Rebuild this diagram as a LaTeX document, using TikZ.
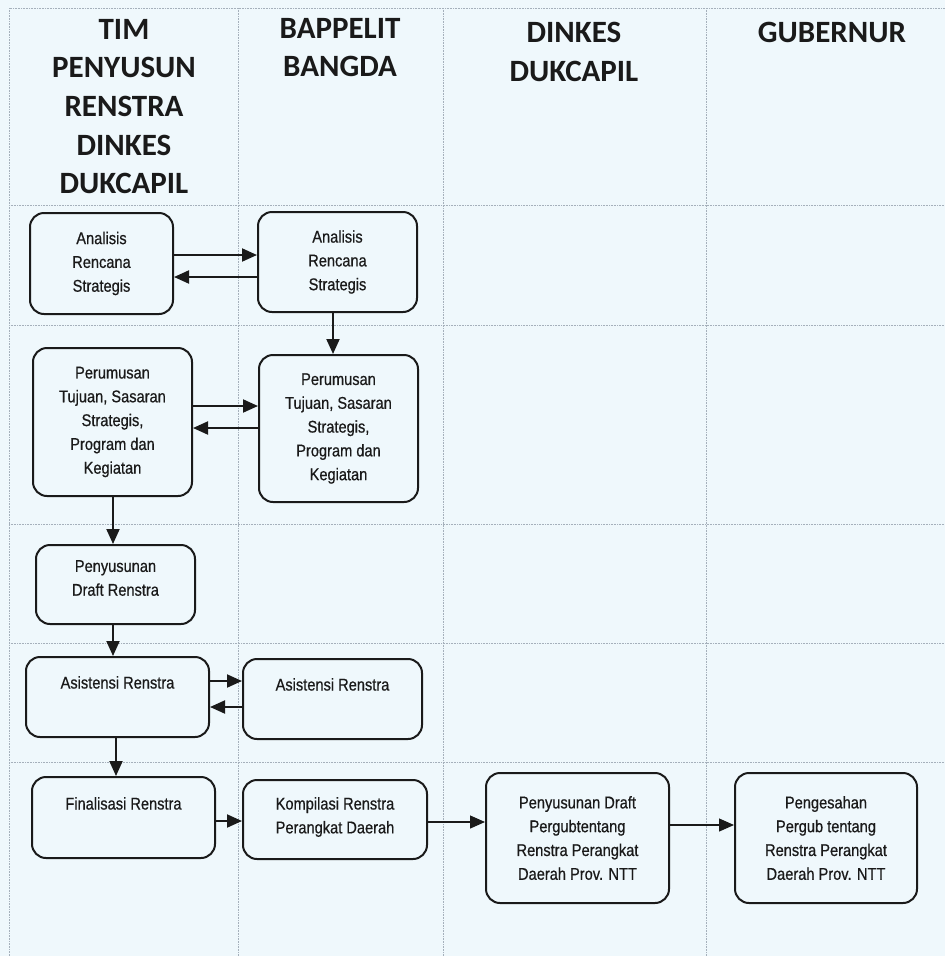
\documentclass[tikz,border=0pt]{standalone}
\usepackage{fontspec}
\setmainfont{Liberation Sans}
\newfontfamily\hfont{Carlito}
\newfontfamily\bfont{Liberation Sans}[FakeStretch=0.86,FakeBold=0.6]
\usetikzlibrary{arrows.meta}
\definecolor{bg}{HTML}{EFF8FC}
\definecolor{ink}{HTML}{1A1A1A}
\definecolor{gridc}{HTML}{A5B0BB}
\begin{document}
\begin{tikzpicture}[x=1pt,y=-1pt,
  gridline/.style={draw=gridc, line width=0.6pt, densely dotted},
  head/.style={anchor=north, inner sep=0pt, align=center, text=ink,
    font=\hfont\bfseries\fontsize{31}{38.6}\selectfont},
  box/.style={draw=ink, line width=2pt, rounded corners=14pt, align=center,
    inner sep=0pt, text=ink, font=\bfont\fontsize{17}{23.8}\selectfont},
  toptext/.style={anchor=north, inner sep=0pt, align=center, text=ink,
    font=\bfont\fontsize{17}{23.8}\selectfont},
  arr/.style={draw=ink, line width=2pt, -{Triangle[length=15pt,width=13pt]}},
  arrthin/.style={draw=ink, line width=1.3pt, -{Triangle[length=15pt,width=13pt]}}]
\fill[bg] (0,0) rectangle (945,956);
\useasboundingbox (0,0) rectangle (945,956);
% grid
\draw[gridline] (9,956) -- (9,8) -- (945,8);
\foreach \x in {238,443,706} \draw[gridline] (\x,8) -- (\x,956);
\foreach \y in {205,325,524,643,762} \draw[gridline] (9,\y) -- (945,\y);
% headers
\node[head] (h1) at (124,19) {TIM\\PENYUSUN\\RENSTRA\\DINKES\\DUKCAPIL};
\node[head] (h2) at (340,18) {BAPPELIT\\BANGDA};
\node[head] (h3) at (574,22) {DINKES\\DUKCAPIL};
\node[head] (h4) at (832,22) {GUBERNUR};
% boxes
\node[box, minimum width=143, minimum height=101] (A1) at (101.5,263.5) {Analisis\\Rencana\\Strategis};
\node[box, minimum width=159, minimum height=100] (B1) at (337.5,262) {Analisis\\Rencana\\Strategis};
\node[box, minimum width=159, minimum height=148] (A2) at (112.5,422) {Perumusan\\Tujuan, Sasaran\\Strategis,\\Program dan\\Kegiatan};
\node[box, minimum width=159, minimum height=147] (B2) at (338.5,428.5) {Perumusan\\Tujuan, Sasaran\\Strategis,\\Program dan\\Kegiatan};
\node[box, minimum width=159, minimum height=79,
  label={[toptext, yshift=-16pt]north:Penyusunan\\Draft Renstra}] (A3) at (115.5,584.5) {};
\node[box, minimum width=183, minimum height=80,
  label={[toptext, yshift=-20pt]north:Asistensi Renstra}] (A4) at (117.5,697) {};
\node[box, minimum width=179, minimum height=80,
  label={[toptext, yshift=-20pt]north:Asistensi Renstra}] (B4) at (332.5,699) {};
\node[box, minimum width=183, minimum height=81,
  label={[toptext, yshift=-21pt]north:Finalisasi Renstra}] (A5) at (123.5,817.5) {};
\node[box, minimum width=184, minimum height=79,
  label={[toptext, yshift=-18pt]north:Kompilasi Renstra\\Perangkat Daerah}] (B5) at (335,819.5) {};
\node[box, minimum width=183, minimum height=130] (C5) at (577.5,838) {Penyusunan Draft\\Pergubtentang\\Renstra Perangkat\\Daerah Prov. NTT};
\node[box, minimum width=182, minimum height=130] (D5) at (826,838) {Pengesahan\\Pergub tentang\\Renstra Perangkat\\Daerah Prov. NTT};
% connectors
\draw[arr] (A1.east |- 0,255) -- (B1.west |- 0,255);
\draw[arr] (B1.west |- 0,277) -- (A1.east |- 0,277);
\draw[arr] (333,0 |- B1.south) -- (333,0 |- B2.north);
\draw[arr] (A2.east |- 0,406) -- (B2.west |- 0,406);
\draw[arr] (B2.west |- 0,428) -- (A2.east |- 0,428);
\draw[arr] (113,0 |- A2.south) -- (113,0 |- A3.north);
\draw[arr] (113,0 |- A3.south) -- (113,0 |- A4.north);
\draw[arr] (A4.east |- 0,681) -- (B4.west |- 0,681);
\draw[arr] (B4.west |- 0,707) -- (A4.east |- 0,707);
\draw[arr] (116,0 |- A4.south) -- (116,0 |- A5.north);
\draw[arr] (A5.east |- 0,821) -- (B5.west |- 0,821);
\draw[arrthin] (B5.east |- 0,822) -- (C5.west |- 0,822);
\draw[arrthin] (C5.east |- 0,825) -- (D5.west |- 0,825);
\end{tikzpicture}
\end{document}
